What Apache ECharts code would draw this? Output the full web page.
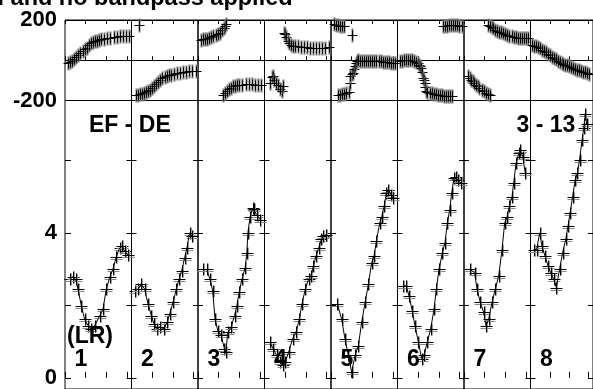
<!DOCTYPE html>
<html><head><meta charset="utf-8">
<script src="https://cdn.jsdelivr.net/npm/echarts@6/dist/echarts.min.js"></script>
<style>html,body{margin:0;padding:0;background:#fff;overflow:hidden}#c{width:593px;height:389px}</style>
</head><body><div id="c"></div>
<script>
// ---- data ----
const ifLabels = ['1','2','3','4','5','6','7','8'];
const phaseLabelValues = [-200, 200];
const ampTickValues = [0, 2, 4, 6];
const ampLabelValues = [0, 4];
const titleText = 'l and no bandpass applied';
const baselineText = 'EF - DE';
const timeText = '3 - 13';
const polText = '(LR)';

const amp1 = [[4.5,2.74],[7.7,2.79],[10.3,2.72],[12.6,2.45],[15.8,1.99],[19.0,1.62],[22.3,1.44],[25.5,1.35],[28.7,1.44],[33.6,1.71],[36.8,1.9],[40,2.45],[43.3,2.77],[46.5,3.01],[49.7,3.34],[53,3.59],[55.5,3.63],[57.8,3.5],[61,3.38]];
const amp2 = [[3.1,2.4],[6.3,2.45],[9.5,2.58],[12.7,2.45],[16,2.04],[19.2,1.72],[21.8,1.49],[24.7,1.35],[27.9,1.4],[31.2,1.35],[34.4,1.53],[37,1.76],[40.2,2.08],[43.4,2.45],[46,2.72],[48.6,2.95],[51.5,3.32],[53.7,3.59],[56.3,4.0],[58.9,3.9]];
const amp3 = [[4.5,2.99],[8.4,2.99],[11.6,2.72],[14.2,2.4],[16.5,1.62],[19.2,1.3],[22.4,1.17],[25.6,0.8],[26.9,0.71],[28.9,1.26],[32.1,1.4],[35.4,1.72],[37.6,1.99],[39.9,2.36],[42.5,2.72],[45.7,3.04],[47.3,3.45],[48.3,4.0],[50.5,4.45],[52.8,4.68],[54.7,4.65],[57,4.5],[60.2,4.36]];
const amp4 = [[5.3,0.99],[8.5,0.8],[11.8,0.62],[15,0.44],[17.6,0.35],[20.2,0.44],[23.4,0.71],[27.2,1.08],[30.5,1.26],[33.7,1.62],[36.3,2.04],[39.5,2.45],[42.7,2.72],[45,2.81],[47.3,3.08],[49.9,3.36],[52.5,3.59],[55,3.82],[57,3.91],[59.6,3.95]];
const amp5 = [[6.1,2.04],[10.3,1.62],[13.5,1.08],[16.8,0.62],[20,0.16],[23.3,0.62],[26.5,0.89],[29.7,1.53],[33,2.08],[36.2,2.58],[39.4,3.18],[41.7,3.36],[43.9,3.77],[47.2,4.27],[49.1,4.45],[51.4,4.73],[53.6,5.1],[55.6,5.19],[57.9,5.05],[60.2,4.96]];
const amp6 = [[5.3,2.54],[8.5,2.54],[11.1,2.26],[14.3,1.85],[16.9,1.44],[20.2,0.99],[23.4,0.53],[25.6,0.62],[28.9,0.99],[32.1,1.35],[35.4,1.9],[37.6,2.45],[40.2,2.99],[43.4,3.45],[46,3.73],[48.3,4.27],[50.5,4.64],[52.5,5.1],[54.7,5.51],[56.3,5.55],[58.9,5.46],[61.2,5.37]];
const amp7 = [[6.1,2.99],[10.3,2.9],[12.6,2.45],[15.8,2.08],[19,1.81],[21.3,1.44],[23.9,1.62],[27.1,2.08],[30.3,2.45],[33.6,2.81],[36.8,3.54],[39.4,4.27],[41.7,4.45],[43.9,4.73],[46.5,5.0],[48.1,5.37],[50.4,5.92],[53,6.19],[54.6,6.28],[56.9,6.1],[59.4,5.64]];
const amp8 = [[3.1,3.54],[6.3,3.54],[9.5,4.0],[11.8,3.63],[15,3.36],[18.2,3.08],[20.8,2.9],[24,2.72],[26.6,2.49],[29.9,2.99],[33.1,3.45],[36.3,3.82],[38.6,4.18],[40.8,4.55],[43.4,5.0],[46,5.46],[48.3,5.64],[50.5,6.01],[53.1,6.56],[54.8,6.88],[56.4,7.29],[58,7.0]];

const ph1 = [[3,-14],[5,-10],[7,-5],[9,5],[11,18],[13,28],[15,35],[17,45],[19,55],[21,63],[23,75],[25,84],[27,90],[29,95],[31,98],[33,101],[35,104],[38,107],[41,110],[44,113],[47,115],[50,117],[53,119],[56,120],[59,122],[62,122]];
const ph2 = [[7,176],[4,-172],[6,-171],[8,-170],[10,-168],[12,-165],[14,-160],[16,-155],[18,-147],[20,-138],[22,-130],[24,-120],[26,-110],[28,-100],[30,-90],[32,-83],[34,-78],[36,-74],[38,-71],[41,-68],[44,-65],[47,-62],[50,-59],[53,-57],[56,-55],[59,-53],[62,-52]];
const ph3 = [[3,102],[5,104],[7,106],[9,108],[11,112],[13,117],[15,121],[17,125],[19,130],[21,137],[23,148],[25,160],[26,170],[27,178],[24,-172],[26,-162],[28,-152],[30,-143],[32,-136],[34,-130],[36,-127],[38,-125],[40,-123],[43,-121],[46,-119],[49,-118],[52,-120],[55,-122],[58,-124],[61,-125]];
const ph4 = [[5,-113],[7,-85],[8,-80],[9,-100],[11,-115],[13,-125],[15,-145],[17,-155],[18,-130],[19,135],[20,128],[21,118],[23,95],[24,85],[26,78],[28,73],[30,70],[32,69],[35,67],[38,65],[41,64],[44,63],[47,62],[50,61],[53,61],[56,61],[59,62],[62,64]];
const ph5 = [[3,178],[5,176],[7,174],[9,172],[11,170],[13,168],[20,127],[7,-172],[9,-171],[11,-170],[13,-168],[15,-165],[17,-160],[18,-113],[18.5,-80],[20,-70],[21,-62],[22,-45],[23,-30],[24,-14],[25,-5],[26,2],[28,-2],[30,-4],[32,-3],[34,-2],[36,-2],[38,-3],[40,-3],[42,-4],[44,-5],[46,-6],[48,-6],[50,-7],[52,-8],[54,-9],[56,-10],[58,-12],[60,-13],[62,-14]];
const ph6 = [[2,-6],[4,-2],[6,1],[8,2],[10,2],[12,1],[14,0],[16,-4],[18,-10],[20,-16],[21,-22],[22,-30],[23,-39],[24,-60],[24.7,-89],[25.5,-100],[26.3,-113],[27,-135],[27.9,-155],[29,-158],[31,-161],[33,-164],[35,-167],[37,-170],[39,-172],[41,-174],[43,-175],[45,-176],[47,-176],[49,-176],[51,-176],[53,-176],[44,168],[46,170],[48,172],[50,173],[52,175],[54,176],[56,175],[58,173],[60,170],[62,168]];
const ph7 = [[4,-80],[5.5,-88],[7,-97],[8.5,-105],[10,-113],[12,-122],[13.5,-130],[15,-138],[17,-147],[19,-155],[21,-163],[23,-168],[25,-171],[23,176],[25,170],[27,164],[28,160],[30,152],[32,146],[34,142],[36,138],[38,135],[40,130],[42,125],[44,122],[46,119],[48,117],[50,115],[52,113],[54,112],[56,111],[58,110],[60,110],[62,109]];
const ph8 = [[2,77],[4,73],[6,70],[8,66],[10,60],[12,52],[14,45],[16,39],[18,33],[20,25],[22,18],[24,11],[26,4],[28,-3],[30,-10],[32,-15],[34,-19],[36,-22],[38,-26],[40,-30],[42,-35],[44,-39],[46,-43],[48,-46],[50,-50],[52,-53],[54,-56],[56,-59],[58,-63],[60,-67]];

const ampAll = [amp1, amp2, amp3, amp4, amp5, amp6, amp7, amp8];
const phAll = [ph1, ph2, ph3, ph4, ph5, ph6, ph7, ph8];

// ---- layout ----
const FONT = '"Liberation Sans", Arial, Helvetica, sans-serif';
const L0 = 65, W = 66.5;
const PT = 20, PH = 80.5;
const AT = 100.5, AH = 290;
const AMP_MIN = -0.307, AMP_MAX = 7.651;
const CH_MAX = 64.4;

const grids = [], xAxes = [], yAxes = [], series = [];
for (let i = 0; i < 8; i++) grids.push({left: L0 + i*W, top: PT, width: W, height: PH, show: true, borderColor: '#000', borderWidth: 1, backgroundColor: 'transparent'});
for (let i = 0; i < 8; i++) grids.push({left: L0 + i*W, top: AT, width: W, height: AH, show: true, borderColor: '#000', borderWidth: 1, backgroundColor: 'transparent'});

function xAx(g, pos, len, offset) {
  return {type: 'value', gridIndex: g, min: 0, max: CH_MAX, interval: 20, position: pos, offset: offset || 0,
    axisLine: {show: false}, axisTick: {show: true, inside: true, length: len, lineStyle: {color: '#000', width: 1}},
    axisLabel: {show: false}, splitLine: {show: false}};
}
for (let i = 0; i < 8; i++) xAxes.push(xAx(i, 'bottom', 4));      // 0-7
for (let i = 0; i < 8; i++) xAxes.push(xAx(i, 'top', 4));         // 8-15
for (let i = 0; i < 8; i++) xAxes.push(xAx(8 + i, 'bottom', 6));  // 16-23

const labStyle = {color: '#000', fontSize: 22, fontWeight: 'bold', fontFamily: FONT, margin: 8};
for (let i = 0; i < 8; i++) yAxes.push({type: 'value', gridIndex: i, min: -200, max: 200, interval: 200,
  axisLine: {show: false}, axisTick: {show: false},
  splitLine: {show: true, lineStyle: {color: '#000', width: 1}},
  axisLabel: i === 0 ? Object.assign({show: true, customValues: phaseLabelValues, showMinLabel: true, showMaxLabel: true}, labStyle) : {show: false}});
for (let i = 0; i < 8; i++) yAxes.push({type: 'value', gridIndex: 8 + i, min: AMP_MIN, max: AMP_MAX, position: 'left',
  axisLine: {show: false}, splitLine: {show: false},
  axisTick: {show: true, inside: true, length: i === 0 ? 6 : 5, customValues: ampTickValues, lineStyle: {color: '#000', width: 1}},
  axisLabel: i === 0 ? Object.assign({show: true, customValues: ampLabelValues}, labStyle) : {show: false}});
for (let i = 0; i < 8; i++) yAxes.push({type: 'value', gridIndex: 8 + i, min: AMP_MIN, max: AMP_MAX, position: 'right',
  axisLine: {show: false}, splitLine: {show: false},
  axisTick: {show: true, inside: true, length: 5, customValues: ampTickValues, lineStyle: {color: '#000', width: 1}},
  axisLabel: {show: false}});

function seg(x1, y1, x2, y2, c, w) {
  return {type: 'line', shape: {x1: x1, y1: y1, x2: x2, y2: y2}, style: {stroke: c, lineWidth: w || 1}};
}
function phaseCross(params, api) {
  const p = api.coord([api.value(0), api.value(1)]);
  const x = Math.round(p[0]) + 0.5, y = Math.round(p[1]) + 0.5;
  return {type: 'group', children: [
    seg(x, y - 7, x, y + 7, '#777', 2),
    seg(x - 5, y, x + 5, y, '#000'),
    seg(x, y - 5, x, y + 5, '#000')
  ]};
}
function ampCross(params, api) {
  const p = api.coord([api.value(0), api.value(1)]);
  const x = Math.round(p[0]) + 0.5, y = Math.round(p[1]) + 0.5;
  return {type: 'group', children: [
    seg(x - 6, y + 2, x + 6, y + 2, '#888'),
    seg(x + 1, y - 6, x + 1, y + 6, '#999'),
    seg(x - 6, y, x + 6, y, '#000'),
    seg(x, y - 6, x, y + 6, '#000')
  ]};
}
for (let i = 0; i < 8; i++) {
  series.push({type: 'custom', xAxisIndex: i, yAxisIndex: i, data: phAll[i], renderItem: phaseCross, silent: true, animation: false});
  series.push({type: 'line', xAxisIndex: 16 + i, yAxisIndex: 8 + i, data: ampAll[i], symbol: 'none', lineStyle: {color: '#000', width: 1}, silent: true, animation: false});
  series.push({type: 'custom', xAxisIndex: 16 + i, yAxisIndex: 8 + i, data: ampAll[i], renderItem: ampCross, silent: true, animation: false});
}

const txt = (t, x, y, size) => ({type: 'text', x: x, y: y, style: {text: t, fill: '#000', font: 'bold ' + size + 'px ' + FONT, verticalAlign: 'middle', align: 'left'}, z: 100});
const graphics = [
  txt(titleText, -2.5, -1.5, 23.5),
  txt(baselineText, 89, 126, 23),
  txt(timeText, 516.5, 126, 23),
  txt(polText, 67, 337, 23)
];
ifLabels.forEach((s, i) => graphics.push(txt(s, L0 + i*W + 9.5, 359.5, 23)));

const chart = echarts.init(document.getElementById('c'), null, {renderer: 'canvas'});
chart.setOption({
  animation: false,
  backgroundColor: '#fff',
  grid: grids, xAxis: xAxes, yAxis: yAxes, series: series,
  graphic: graphics
});
</script></body></html>
